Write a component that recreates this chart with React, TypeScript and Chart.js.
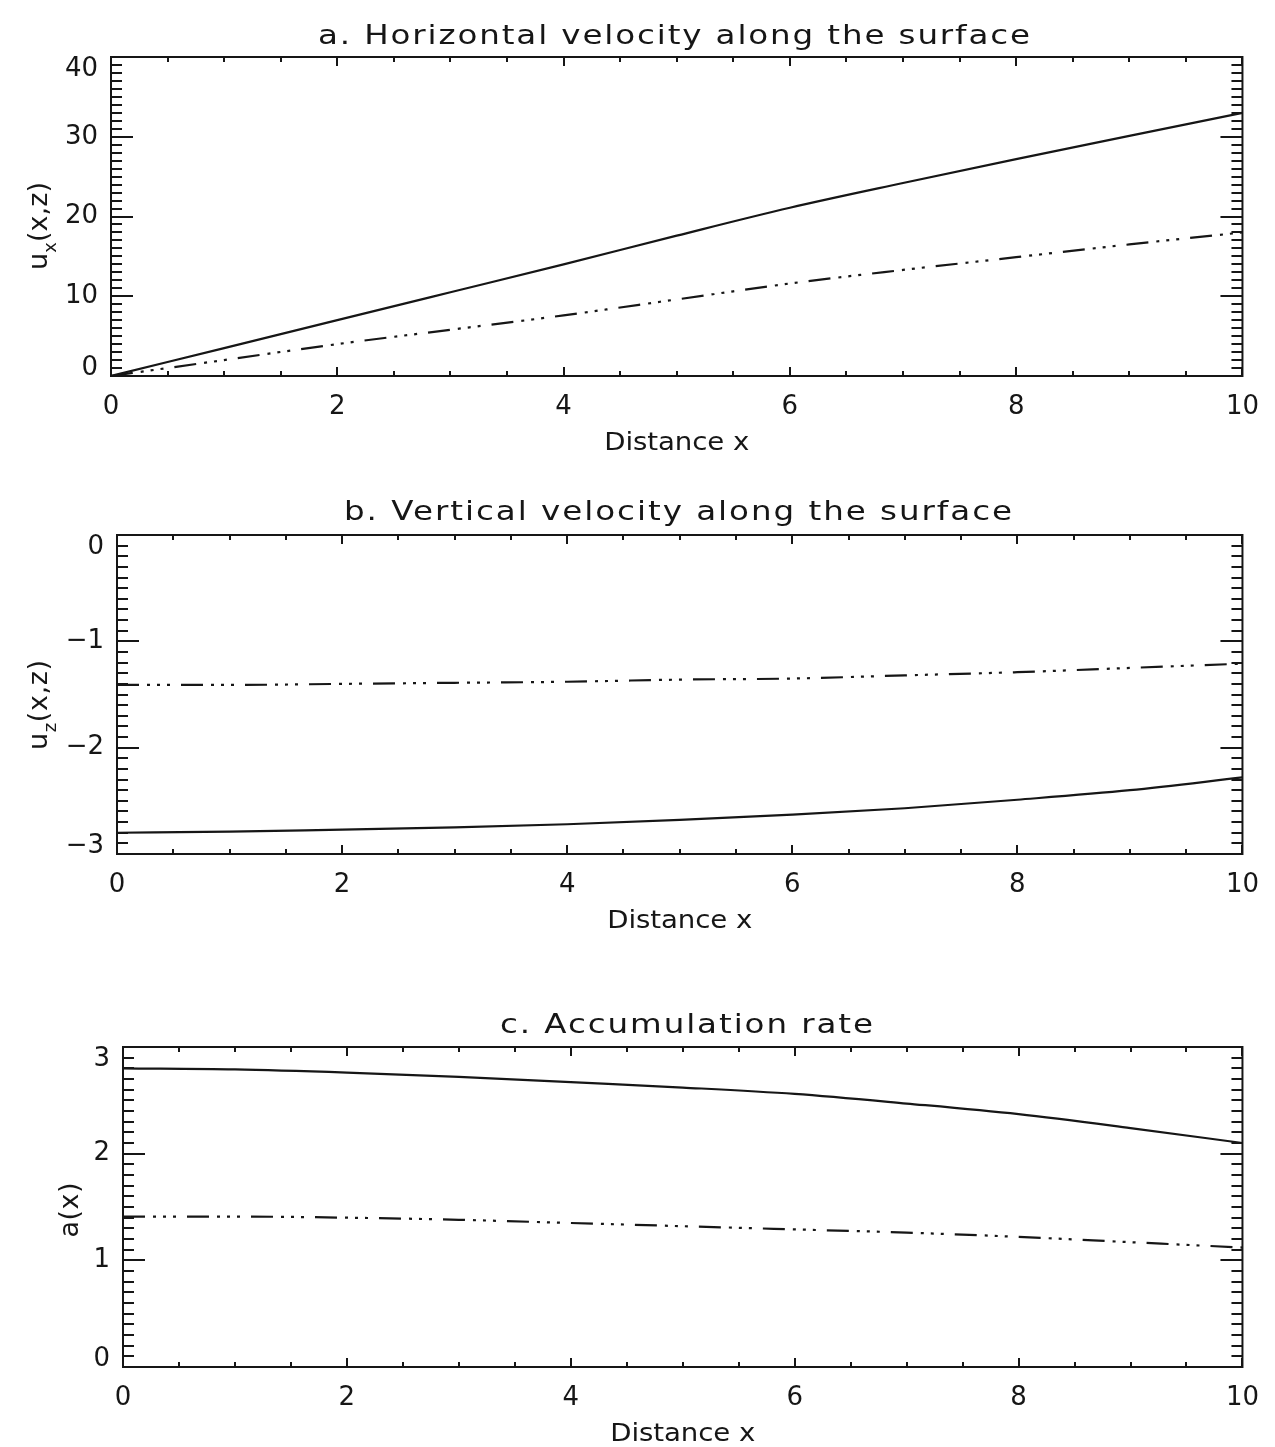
import React, { useEffect, useRef } from 'react';
import { Chart, registerables } from 'chart.js';

Chart.register(...registerables);

// ---------------- data ----------------
const DISTANCE = [0, 1, 2, 3, 4, 5, 6, 7, 8, 9, 10];

// a. horizontal velocity along the surface
const UX_SOLID = [0, 3.5, 7.0, 10.5, 14.0, 17.6, 21.1, 24.2, 27.2, 30.1, 33.0];
const UX_DASHED = [0, 2.0, 4.0, 5.8, 7.6, 9.6, 11.6, 13.3, 14.9, 16.5, 18.0];

// b. vertical velocity along the surface
const UZ_SOLID = [-2.8, -2.79, -2.77, -2.75, -2.72, -2.68, -2.63, -2.57, -2.49, -2.4, -2.28];
const UZ_DASHED = [-1.41, -1.41, -1.4, -1.39, -1.38, -1.36, -1.35, -1.32, -1.29, -1.25, -1.21];

// c. accumulation rate
const ACC_SOLID = [2.8, 2.79, 2.76, 2.72, 2.67, 2.62, 2.56, 2.47, 2.37, 2.24, 2.1];
const ACC_DASHED = [1.41, 1.41, 1.4, 1.38, 1.35, 1.32, 1.29, 1.26, 1.22, 1.17, 1.12];

// tick values
const X_TICKS = [0, 2, 4, 6, 8, 10];
const UX_TICKS = [0, 10, 20, 30, 40];
const UZ_TICKS = [-3, -2, -1, 0];
const ACC_TICKS = [0, 1, 2, 3];

// texts
const TITLE_A = 'a. Horizontal velocity along the surface';
const TITLE_B = 'b. Vertical velocity along the surface';
const TITLE_C = 'c. Accumulation rate';
const X_LABEL = 'Distance x';
const Y_LABEL_A = [{ text: 'u' }, { text: 'x', sub: true }, { text: '(x,z)' }];
const Y_LABEL_B = [{ text: 'u' }, { text: 'z', sub: true }, { text: '(x,z)' }];
const Y_LABEL_C = [{ text: 'a(x)' }];

// ---------------- style ----------------
const INK = '#161616';
const FAMILY = '"DejaVu Sans", "Liberation Sans", sans-serif';
const DASH = [22, 8, 3, 7, 3, 7, 3, 11];

Chart.defaults.font.family = FAMILY;

const fmt = (v: number) => {
  const r = Math.round(v * 1000) / 1000;
  return r < 0 ? '\u2212' + String(-r) : String(r);
};

// draws text from (x, y) so that it spans `width`, glyphs widened by `sx`
function spacedText(
  ctx: CanvasRenderingContext2D,
  text: string,
  x: number,
  y: number,
  width: number,
  font: string,
  sx: number
) {
  ctx.save();
  ctx.font = font;
  (ctx as any).letterSpacing = '0px';
  const w0 = ctx.measureText(text).width;
  const ls = text.length > 1 ? (width / sx - w0) / (text.length - 1) : 0;
  ctx.translate(x, y);
  ctx.scale(sx, 1);
  (ctx as any).letterSpacing = `${ls}px`;
  ctx.textAlign = 'left';
  ctx.textBaseline = 'alphabetic';
  ctx.fillText(text, 0, 0);
  (ctx as any).letterSpacing = '0px';
  ctx.restore();
}

const framePlugin = {
  id: 'frame',
  afterDraw(chart: any, _args: any, o: any) {
    const { ctx, chartArea: a } = chart;
    const xs = chart.scales.x;
    const ys = chart.scales.y;
    ctx.save();
    ctx.strokeStyle = INK;
    ctx.fillStyle = INK;
    ctx.lineWidth = 2;
    ctx.lineCap = 'butt';

    // minor and major ticks on all four sides, pointing inwards
    ctx.beginPath();
    const yMaj = ys.ticks.map((t: any) => t.value);
    const nY = Math.round((ys.max - ys.min) / o.yMinor);
    for (let i = 0; i <= nY; i++) {
      const v = ys.min + i * o.yMinor;
      const major = yMaj.some((m: number) => Math.abs(m - v) < o.yMinor / 2);
      const len = major ? 22 : 11;
      const p = Math.round(ys.getPixelForValue(v));
      ctx.moveTo(a.left, p);
      ctx.lineTo(a.left + len, p);
      ctx.moveTo(a.right, p);
      ctx.lineTo(a.right - len, p);
    }
    const xMaj = xs.ticks.map((t: any) => t.value);
    const nX = Math.round((xs.max - xs.min) / o.xMinor);
    for (let i = 0; i <= nX; i++) {
      const v = xs.min + i * o.xMinor;
      const major = xMaj.some((m: number) => Math.abs(m - v) < o.xMinor / 2);
      const len = major ? 9 : 5;
      const p = Math.round(xs.getPixelForValue(v));
      ctx.moveTo(p, a.bottom);
      ctx.lineTo(p, a.bottom - len);
      ctx.moveTo(p, a.top);
      ctx.lineTo(p, a.top + len);
    }
    ctx.stroke();
    ctx.strokeRect(a.left, a.top, a.right - a.left, a.bottom - a.top);

    // panel title
    spacedText(ctx, o.title, o.titleX, o.titleBaseline, o.titleWidth, `26px ${FAMILY}`, 1.25);

    // x axis title
    const cx = (a.left + a.right) / 2;
    spacedText(
      ctx,
      X_LABEL,
      cx - o.xLabelWidth / 2,
      a.bottom + o.xLabelOffset,
      o.xLabelWidth,
      `24px ${FAMILY}`,
      1.15
    );

    // y axis title (rotated, with subscript)
    ctx.save();
    ctx.translate(o.yTitleX, o.yTitleY);
    ctx.rotate(-Math.PI / 2);
    const mainFont = `27px ${FAMILY}`;
    const subFont = `18px ${FAMILY}`;
    const chars: { ch: string; sub: boolean; w: number }[] = [];
    for (const part of o.yTitle) {
      for (const ch of part.text) {
        ctx.font = part.sub ? subFont : mainFont;
        chars.push({ ch, sub: !!part.sub, w: ctx.measureText(ch).width });
      }
    }
    const total = chars.reduce((s, c) => s + c.w, 0);
    const ls = chars.length > 1 ? (o.yTitleLength - total) / (chars.length - 1) : 0;
    let x = -o.yTitleLength / 2;
    ctx.textAlign = 'left';
    ctx.textBaseline = 'alphabetic';
    for (const c of chars) {
      ctx.font = c.sub ? subFont : mainFont;
      ctx.fillText(c.ch, x, c.sub ? 9 : 0);
      x += c.w + ls;
    }
    ctx.restore();

    ctx.restore();
  },
};

type PanelSpec = {
  key: string;
  top: number;
  height: number;
  padTop: number;
  padRight: number;
  yWidth: number;
  xHeight: number;
  yMin: number;
  yMax: number;
  yTicks: number[];
  solid: number[];
  dashed: number[];
  frame: any;
};

const PANELS: PanelSpec[] = [
  {
    key: 'a', top: 0, height: 460, padTop: 57, padRight: 31, yWidth: 111, xHeight: 84,
    yMin: 0, yMax: 40, yTicks: UX_TICKS, solid: UX_SOLID, dashed: UX_DASHED,
    frame: {
      title: TITLE_A, titleX: 318, titleBaseline: 44, titleWidth: 712,
      xLabelOffset: 73.5, xLabelWidth: 145,
      yTitle: Y_LABEL_A, yTitleX: 47, yTitleY: 226, yTitleLength: 88,
      yMinor: 1, xMinor: 0.5,
    },
  },
  {
    key: 'b', top: 460, height: 490, padTop: 75, padRight: 29, yWidth: 117, xHeight: 96,
    yMin: -3, yMax: 0, yTicks: UZ_TICKS, solid: UZ_SOLID, dashed: UZ_DASHED,
    frame: {
      title: TITLE_B, titleX: 344, titleBaseline: 59.5, titleWidth: 668,
      xLabelOffset: 73.5, xLabelWidth: 145,
      yTitle: Y_LABEL_B, yTitleX: 47, yTitleY: 245, yTitleLength: 90,
      yMinor: 0.1, xMinor: 0.5,
    },
  },
  {
    key: 'c', top: 950, height: 497, padTop: 97, padRight: 20, yWidth: 123, xHeight: 80,
    yMin: 0, yMax: 3, yTicks: ACC_TICKS, solid: ACC_SOLID, dashed: ACC_DASHED,
    frame: {
      title: TITLE_C, titleX: 500, titleBaseline: 83, titleWidth: 373,
      xLabelOffset: 73.5, xLabelWidth: 145,
      yTitle: Y_LABEL_C, yTitleX: 78, yTitleY: 260, yTitleLength: 55,
      yMinor: 0.1, xMinor: 0.5,
    },
  },
];

function makeConfig(spec: PanelSpec): any {
  const line = (vals: number[], dash: number[]) => ({
    data: DISTANCE.map((x, i) => ({ x, y: vals[i] })),
    borderColor: INK,
    borderWidth: 2.2,
    borderDash: dash,
    pointRadius: 0,
    cubicInterpolationMode: 'monotone',
    fill: false,
  });
  return {
    type: 'line',
    data: { datasets: [line(spec.solid, []), line(spec.dashed, DASH)] },
    plugins: [framePlugin],
    options: {
      responsive: false,
      animation: false,
      events: [],
      layout: { padding: { top: spec.padTop, right: spec.padRight, left: 0, bottom: 0 } },
      plugins: {
        legend: { display: false },
        tooltip: { enabled: false },
        title: { display: false },
        frame: spec.frame,
      },
      scales: {
        x: {
          type: 'linear',
          min: 0,
          max: 10,
          afterBuildTicks: (s: any) => { s.ticks = X_TICKS.map((v) => ({ value: v })); },
          afterFit: (s: any) => { s.height = spec.xHeight; },
          grid: { display: false, drawTicks: false },
          border: { display: false },
          ticks: {
            color: INK,
            font: { family: FAMILY, size: 26 },
            padding: 16,
            maxRotation: 0,
            minRotation: 0,
            autoSkip: false,
            callback: (v: number) => fmt(v),
          },
        },
        y: {
          type: 'linear',
          min: spec.yMin,
          max: spec.yMax,
          afterBuildTicks: (s: any) => { s.ticks = spec.yTicks.map((v) => ({ value: v })); },
          afterFit: (s: any) => { s.width = spec.yWidth; },
          grid: { display: false, drawTicks: false },
          border: { display: false },
          ticks: {
            color: INK,
            padding: 13,
            autoSkip: false,
            font: (c: any) => {
              const n = spec.yTicks.length;
              const lh = c.index === n - 1 ? '24px' : c.index === 0 ? '15px' : 1.2;
              return { family: FAMILY, size: 26, lineHeight: lh };
            },
            callback: (v: number, i: number, ticks: any[]) => {
              const s = fmt(v);
              if (i === ticks.length - 1) return ['', s];
              if (i === 0) return [s, ''];
              return s;
            },
          },
        },
      },
    },
  };
}

function PanelChart({ spec }: { spec: PanelSpec }) {
  const ref = useRef<HTMLCanvasElement>(null);
  useEffect(() => {
    const chart = new Chart(ref.current as HTMLCanvasElement, makeConfig(spec));
    return () => chart.destroy();
  }, [spec]);
  return (
    <canvas
      ref={ref}
      width={1275}
      height={spec.height}
      style={{ position: 'absolute', left: 0, top: spec.top, width: 1275, height: spec.height, display: 'block' }}
    />
  );
}

export default function App() {
  return (
    <div
      style={{
        position: 'absolute',
        left: 0,
        top: 0,
        width: 1275,
        height: 1447,
        background: '#ffffff',
        overflow: 'hidden',
      }}
    >
      {PANELS.map((p) => (
        <PanelChart key={p.key} spec={p} />
      ))}
    </div>
  );
}
